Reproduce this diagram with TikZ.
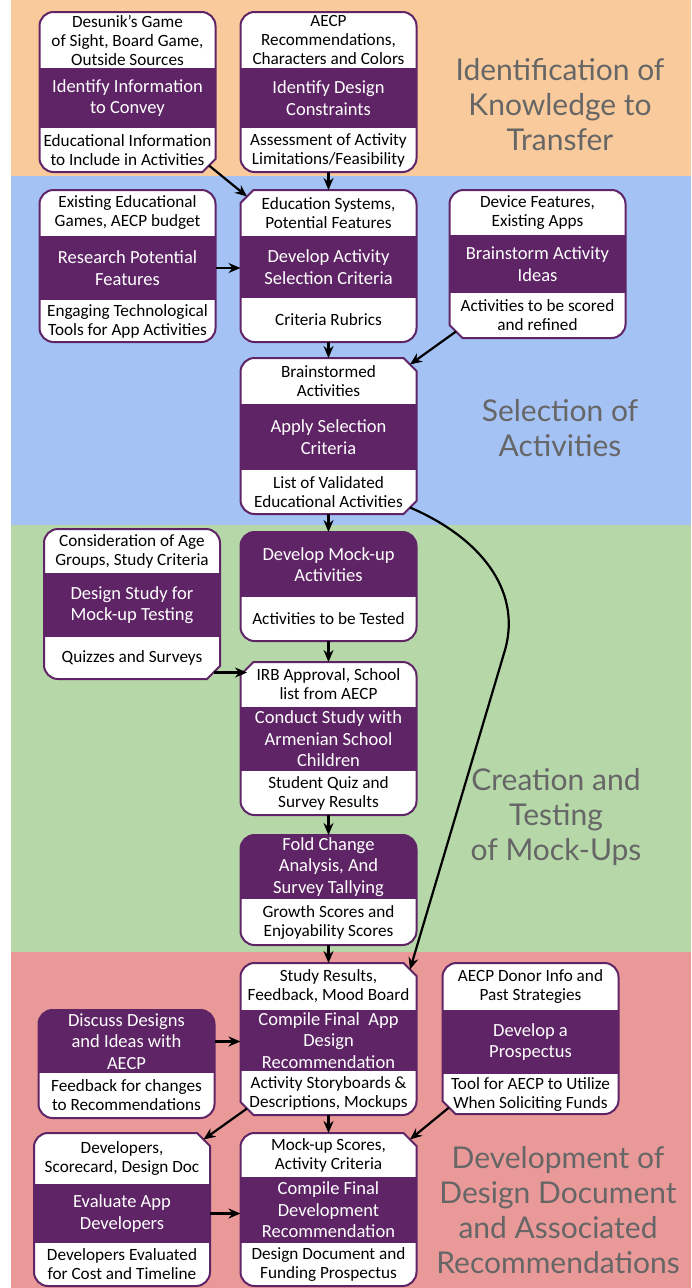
\documentclass[tikz,border=0pt]{standalone}
\usepackage{fontspec}
\setmainfont{Carlito}
\newfontfamily\titlefamily{Lato}
\usetikzlibrary{arrows.meta, positioning, calc, backgrounds}

\definecolor{bandorange}{HTML}{F9CB9C}
\definecolor{bandblue}{HTML}{A4C2F4}
\definecolor{bandgreen}{HTML}{B6D7A8}
\definecolor{bandred}{HTML}{EA9999}
\definecolor{taskpurple}{HTML}{5F2466}
\definecolor{titlegray}{HTML}{666666}

\newcommand\ioFont{\fontsize{17.2}{19}\selectfont}
\newcommand\taskFont{\fontsize{18.5}{21.5}\selectfont}
\newcommand\titleFont{\titlefamily\fontsize{30}{35}\selectfont}
\newcommand\cornerR{14pt}
\newcommand\cornerC{13pt}
\newcommand\cutMid{6.5pt}

% outline of one step: #1 top node, #2 task node, #3 bottom node,
% #4-#7 corners NW NE SE SW (r = rounded, c = cut)
\newcommand\stepframe[7]{%
  \coordinate (fnw) at (#2.west |- #1.north);
  \coordinate (fne) at (#2.east |- #1.north);
  \coordinate (fse) at (#2.east |- #3.south);
  \coordinate (fsw) at (#2.west |- #3.south);
  \coordinate (ftop) at ($(fnw)!.5!(fne)$);
  \coordinate (#2-cnw) at ($(fnw)+(\cutMid,-\cutMid)$);
  \coordinate (#2-cne) at ($(fne)+(-\cutMid,-\cutMid)$);
  \coordinate (#2-cse) at ($(fse)+(-\cutMid,\cutMid)$);
  \coordinate (#2-csw) at ($(fsw)+(\cutMid,\cutMid)$);
  \begin{scope}[on background layer]
    \begin{scope}
      \clip (ftop) [frame path={#4}{#5}{#6}{#7}];
      \fill[white] (fnw) rectangle (fse);
      \fill[taskpurple] (#2.north west) rectangle (#2.south east);
    \end{scope}
    \draw[frameline] (ftop) [frame path={#4}{#5}{#6}{#7}];
  \end{scope}}

\tikzset{
  NEr/.style={insert path={-- ($(fne)+(-\cornerR,0)$) arc[start angle=90,end angle=0,radius=\cornerR]}},
  NEc/.style={insert path={-- ($(fne)+(-\cornerC,0)$) -- ($(fne)+(0,-\cornerC)$)}},
  SEr/.style={insert path={-- ($(fse)+(0,\cornerR)$) arc[start angle=0,end angle=-90,radius=\cornerR]}},
  SEc/.style={insert path={-- ($(fse)+(0,\cornerC)$) -- ($(fse)+(-\cornerC,0)$)}},
  SWr/.style={insert path={-- ($(fsw)+(\cornerR,0)$) arc[start angle=-90,end angle=-180,radius=\cornerR]}},
  SWc/.style={insert path={-- ($(fsw)+(\cornerC,0)$) -- ($(fsw)+(0,\cornerC)$)}},
  NWr/.style={insert path={-- ($(fnw)+(0,-\cornerR)$) arc[start angle=180,end angle=90,radius=\cornerR]}},
  NWc/.style={insert path={-- ($(fnw)+(0,-\cornerC)$) -- ($(fnw)+(\cornerC,0)$)}},
  frame path/.style n args={4}{insert path={[NE#2] [SE#3] [SW#4] [NW#1] -- cycle}},
}

\begin{document}
\begin{tikzpicture}[
    x=1pt, y=1pt,
    inputbox/.style  = {minimum width=176pt, minimum height=#1, inner sep=0pt,
                        outer sep=0pt, align=center, font=\ioFont},
    outputbox/.style = {inputbox=#1},
    taskbox/.style   = {inputbox=#1, font=\taskFont, text=white},
    frameline/.style = {draw=taskpurple, line width=2pt},
    flow/.style      = {-{Stealth[length=12pt,width=10pt]}, line width=2.2pt, black},
    titletext/.style = {font=\titleFont, text=titlegray, align=center},
  ]
  \useasboundingbox (0,0) rectangle (691,-1288);

  %% Bands
  \begin{scope}[on background layer]
    \fill[bandorange] (11,0)     rectangle (691,-176);
    \fill[bandblue]   (11,-176)  rectangle (691,-525);
    \fill[bandgreen]  (11,-525)  rectangle (691,-952);
    \fill[bandred]    (11,-952)  rectangle (691,-1288);
  \end{scope}

  %% Identification of knowledge to transfer
  \node[inputbox=56pt, anchor=north] (infoin) at (127.5,-12) {Desunik’s Game\\of Sight, Board Game,\\Outside Sources};
  \node[taskbox=60pt, below=0pt of infoin] (info) {Identify Information\\to Convey};
  \node[outputbox=44pt, below=0pt of info] (infoout) {Educational Information\\to Include in Activities};
  \stepframe{infoin}{info}{infoout}{r}{r}{c}{r}

  \node[inputbox=56pt, anchor=north] (consin) at (328.5,-12) {AECP\\Recommendations,\\Characters and Colors};
  \node[taskbox=60pt, below=0pt of consin] (cons) {Identify Design\\Constraints};
  \node[outputbox=44pt, below=0pt of cons] (consout) {Assessment of Activity\\Limitations/Feasibility};
  \stepframe{consin}{cons}{consout}{r}{r}{r}{r}

  \node[titletext] (title1) at (560,-105) {Identification of\\Knowledge to\\Transfer};

  %% Selection of activities
  \node[inputbox=46pt, anchor=north] (researchin) at (127.5,-190) {Existing Educational\\Games, AECP budget};
  \node[taskbox=64pt, below=0pt of researchin] (research) {Research Potential\\Features};
  \node[outputbox=42pt, below=0pt of research] (researchout) {Engaging Technological\\Tools for App Activities};
  \stepframe{researchin}{research}{researchout}{r}{r}{r}{r}

  \node[inputbox=46pt, anchor=north] (critin) at (328.5,-190) {Education Systems,\\Potential Features};
  \node[taskbox=62pt, below=0pt of critin] (crit) {Develop Activity\\Selection Criteria};
  \node[outputbox=44pt, below=0pt of crit] (critout) {Criteria Rubrics};
  \stepframe{critin}{crit}{critout}{c}{r}{r}{r}

  \node[inputbox=45pt, anchor=north] (brainin) at (537.5,-190) {Device Features,\\Existing Apps};
  \node[taskbox=58pt, below=0pt of brainin] (brain) {Brainstorm Activity\\Ideas};
  \node[outputbox=45pt, below=0pt of brain] (brainout) {Activities to be scored\\and refined};
  \stepframe{brainin}{brain}{brainout}{r}{r}{r}{c}

  \node[inputbox=46pt, anchor=north] (applyin) at (328.5,-358) {Brainstormed\\Activities};
  \node[taskbox=66pt, below=0pt of applyin] (apply) {Apply Selection\\Criteria};
  \node[outputbox=44pt, below=0pt of apply] (applyout) {List of Validated\\Educational Activities};
  \stepframe{applyin}{apply}{applyout}{r}{c}{c}{r}

  \node[titletext] (title2) at (560,-428) {Selection of\\Activities};

  %% Creation and testing of mock-ups
  \node[inputbox=44pt, anchor=north] (studyin) at (132,-529) {Consideration of Age\\Groups, Study Criteria};
  \node[taskbox=64pt, below=0pt of studyin] (study) {Design Study for\\Mock-up Testing};
  \node[outputbox=42pt, below=0pt of study] (studyout) {Quizzes and Surveys};
  \stepframe{studyin}{study}{studyout}{r}{r}{c}{r}

  \node[taskbox=65pt, anchor=north] (mockup) at (328.5,-532) {Develop Mock-up\\Activities};
  \node[outputbox=44pt, below=0pt of mockup] (mockupout) {Activities to be Tested};
  \stepframe{mockup}{mockup}{mockupout}{r}{r}{r}{r}

  \node[inputbox=45pt, anchor=north] (conductin) at (328.5,-662) {IRB Approval, School\\list from AECP};
  \node[taskbox=64pt, below=0pt of conductin] (conduct) {Conduct Study with\\Armenian School\\Children};
  \node[outputbox=44pt, below=0pt of conduct] (conductout) {Student Quiz and\\Survey Results};
  \stepframe{conductin}{conduct}{conductout}{c}{r}{r}{r}

  \node[taskbox=64pt, anchor=north] (fold) at (328.5,-835) {Fold Change\\Analysis, And\\Survey Tallying};
  \node[outputbox=46pt, below=0pt of fold] (foldout) {Growth Scores and\\Enjoyability Scores};
  \stepframe{fold}{fold}{foldout}{r}{r}{r}{r}

  \node[titletext] (title3) at (556,-817) {Creation and\\Testing\\of Mock-Ups};

  %% Development of design document
  \node[inputbox=47pt, anchor=north] (compappin) at (328.5,-963) {Study Results,\\Feedback, Mood Board};
  \node[taskbox=61pt, below=0pt of compappin] (compapp) {Compile Final~ App\\Design\\Recommendation};
  \node[outputbox=44pt, below=0pt of compapp] (compappout) {Activity Storyboards \&\\Descriptions, Mockups};
  \stepframe{compappin}{compapp}{compappout}{r}{c}{r}{c}

  \node[taskbox=63pt, anchor=north] (discuss) at (126.5,-1010) {Discuss Designs\\and Ideas with\\AECP};
  \node[outputbox=45pt, below=0pt of discuss] (discussout) {Feedback for changes\\to Recommendations};
  \stepframe{discuss}{discuss}{discussout}{r}{r}{r}{r}

  \node[inputbox=47pt, anchor=north] (prospin) at (530.5,-963) {AECP Donor Info and\\Past Strategies};
  \node[taskbox=64pt, below=0pt of prospin] (prosp) {Develop a\\Prospectus};
  \node[outputbox=40pt, below=0pt of prosp] (prospout) {Tool for AECP to Utilize\\When Soliciting Funds};
  \stepframe{prospin}{prosp}{prospout}{r}{r}{r}{c}

  \node[inputbox=51pt, anchor=north] (evalin) at (122,-1133) {Developers,\\Scorecard, Design Doc};
  \node[taskbox=59pt, below=0pt of evalin] (eval) {Evaluate App\\Developers};
  \node[outputbox=43pt, below=0pt of eval] (evalout) {Developers Evaluated\\for Cost and Timeline};
  \stepframe{evalin}{eval}{evalout}{r}{c}{r}{r}

  \node[inputbox=44pt, anchor=north] (compdevin) at (328.5,-1133) {Mock-up Scores,\\Activity Criteria};
  \node[taskbox=66pt, below=0pt of compdevin] (compdev) {Compile Final\\Development\\Recommendation};
  \node[outputbox=43pt, below=0pt of compdev] (compdevout) {Design Document and\\Funding Prospectus};
  \stepframe{compdevin}{compdev}{compdevout}{r}{c}{r}{r}

  \node[titletext] (title4) at (558,-1210) {Development of\\Design Document\\and Associated\\Recommendations};

  %% Flow
  \coordinate (bend) at (505,-650);
  \draw[flow] (info-cse) -- (crit-cnw);
  \draw[flow] (consout.south) -- (critin.north);
  \draw[flow] (research.east) -- (research.east -| crit.west);
  \draw[flow] (critout.south) -- (applyin.north);
  \draw[flow] (brain-csw) -- (apply-cne);
  \draw[flow] (applyout.south) -- (mockup.north);
  \draw[flow] (apply-cse) .. controls +(70,-30) and +(17,60) .. (bend) -- (compapp-cne);
  \draw[flow] (study-cse) -- (study-cse -| conduct-cnw);
  \draw[flow] (mockupout.south) -- (conductin.north);
  \draw[flow] (conductout.south) -- (fold.north);
  \draw[flow] (foldout.south) -- (compappin.north);
  \draw[flow] (discuss.east) -- (discuss.east -| compapp.west);
  \draw[flow] (compapp-csw) -- (eval-cne);
  \draw[flow] (compappout.south) -- (compdevin.north);
  \draw[flow] (prosp-csw) -- (compdev-cne);
  \draw[flow] (eval.east) -- (eval.east -| compdev.west);

\end{tikzpicture}
\end{document}
